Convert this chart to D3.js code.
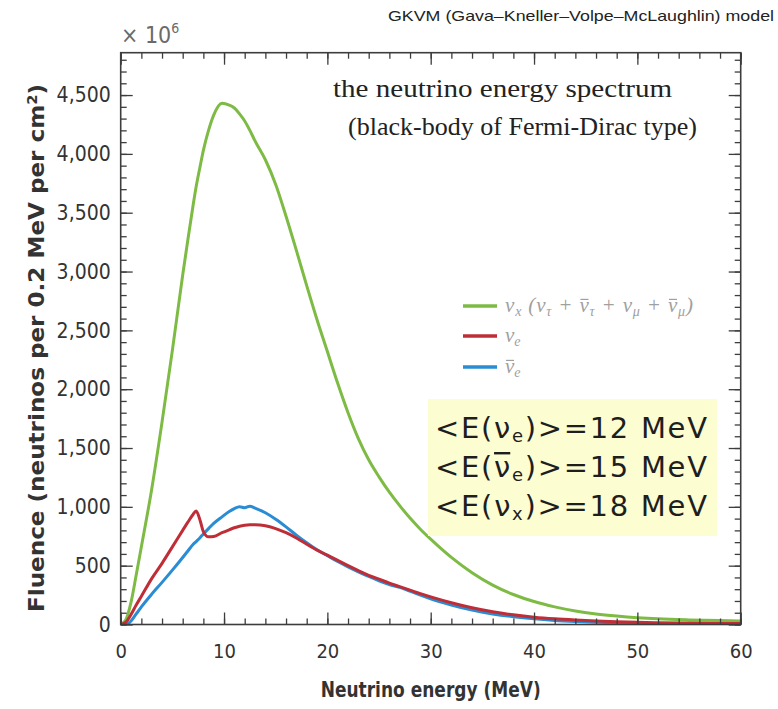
<!DOCTYPE html>
<html>
<head>
<meta charset="utf-8">
<script src="https://cdn.jsdelivr.net/npm/d3@7"></script>
<style>
  body { margin: 0; background: #fff; }
  svg { display: block; }
</style>
</head>
<body>
<svg id="chart" width="778" height="709"></svg>
<script>
// Neutrino energy grid (MeV)
const energy = [0, 0.5, 1, 1.5, 2, 3, 4, 5, 6, 6.5, 7, 7.3, 7.7, 8, 8.5, 9, 9.8, 10.5, 11, 11.5,
  12, 12.5, 13, 14, 15, 16, 17, 18, 19, 20, 21, 22, 23, 24, 25, 26, 27, 28, 29, 30,
  32, 34, 36, 38, 40, 42, 44, 46, 48, 50, 52, 55, 58, 60];

// Fluence, units of 10^6 neutrinos per 0.2 MeV per cm^2
const fluenceNuX = [0, 40, 190, 420, 660, 1150, 1720, 2330, 2970, 3270, 3560, 3720, 3900, 4030, 4200, 4330, 4430, 4415, 4390, 4340,
  4280, 4200, 4110, 3950, 3740, 3470, 3180, 2880, 2590, 2320, 2050, 1800, 1580, 1400, 1255, 1125, 1010, 905, 810, 725,
  570, 440, 335, 255, 195, 150, 115, 90, 72, 58, 48, 39, 33, 30];
const fluenceNuE = [0, 20, 85, 165, 240, 390, 520, 660, 800, 870, 935, 965, 880, 790, 745, 748, 780, 805, 822, 835,
  843, 847, 848, 840, 815, 780, 735, 682, 632, 590, 545, 500, 458, 418, 385, 352, 322, 292, 262, 235,
  185, 142, 108, 82, 62, 48, 38, 30, 24, 19, 15, 12, 9, 8];
const fluenceNuEBar = [0, 0, 30, 90, 150, 258, 358, 462, 570, 625, 680, 705, 740, 770, 815, 860, 915, 960, 985, 1000,
  992, 1006, 990, 950, 895, 830, 760, 695, 635, 585, 535, 490, 448, 408, 372, 340, 315, 283, 250, 218,
  165, 122, 90, 66, 48, 35, 26, 19, 14, 10, 8, 6, 4, 3];

// Axis ticks
const xMajorTicks = [0, 10, 20, 30, 40, 50, 60];
const xMinorTicks = d3.range(0, 61, 2);
const yMajorTicks = [0, 500, 1000, 1500, 2000, 2500, 3000, 3500, 4000, 4500];
const yMinorTicks = d3.range(0, 4801, 100);

const meanEnergies = [
  { flavour: "e", bar: false, value: 12 },
  { flavour: "e", bar: true, value: 15 },
  { flavour: "x", bar: false, value: 18 }
];

const colors = { nuX: "#7dbb45", nuE: "#bf2d37", nuEBar: "#2a8cd2" };

const svg = d3.select("#chart");
const plot = { left: 120.7, right: 740.7, top: 52.7, bottom: 624.5 };

const x = d3.scaleLinear().domain([0, 60]).range([plot.left, plot.right]);
const y = d3.scaleLinear().domain([0, 4860]).range([plot.bottom, plot.top]);

const tickFont = "'DejaVu Sans Condensed', 'Liberation Sans Narrow', 'Roboto Condensed', Roboto, sans-serif";

// Clip for the curves
svg.append("defs").append("clipPath").attr("id", "plotClip")
  .append("rect")
  .attr("x", plot.left).attr("y", plot.top)
  .attr("width", plot.right - plot.left).attr("height", plot.bottom - plot.top);

// Curves
const series = [
  { values: fluenceNuX, color: colors.nuX },
  { values: fluenceNuEBar, color: colors.nuEBar },
  { values: fluenceNuE, color: colors.nuE }
];
const line = d3.line()
  .x(d => x(d[0]))
  .y(d => y(d[1]))
  .curve(d3.curveMonotoneX);

const curves = svg.append("g").attr("clip-path", "url(#plotClip)");
series.forEach(s => {
  curves.append("path")
    .datum(energy.map((e, i) => [e, s.values[i]]))
    .attr("fill", "none")
    .attr("stroke", s.color)
    .attr("stroke-width", 3)
    .attr("stroke-linejoin", "round")
    .attr("d", line);
});

// Axes with inward ticks on all four sides
function styleAxis(g) {
  g.select(".domain").remove();
  g.selectAll(".tick line").attr("stroke", "#3d3d3d").attr("stroke-width", 1.3);
  g.selectAll("text").attr("fill", "#333").style("font-family", tickFont).style("font-size", "20px");
}
svg.append("g").attr("transform", `translate(0,${plot.bottom})`)
  .call(d3.axisBottom(x).tickValues(xMinorTicks).tickSize(-6).tickFormat(""))
  .call(styleAxis);
svg.append("g").attr("transform", `translate(0,${plot.bottom})`)
  .call(d3.axisBottom(x).tickValues(xMajorTicks).tickSize(-12).tickPadding(19).tickFormat(d3.format("d")))
  .call(styleAxis);
svg.append("g").attr("transform", `translate(0,${plot.top})`)
  .call(d3.axisTop(x).tickValues(xMinorTicks).tickSize(-6).tickFormat(""))
  .call(styleAxis);
svg.append("g").attr("transform", `translate(0,${plot.top})`)
  .call(d3.axisTop(x).tickValues(xMajorTicks).tickSize(-12).tickFormat(""))
  .call(styleAxis);
svg.append("g").attr("transform", `translate(${plot.left},0)`)
  .call(d3.axisLeft(y).tickValues(yMinorTicks).tickSize(-6).tickFormat(""))
  .call(styleAxis);
svg.append("g").attr("transform", `translate(${plot.left},0)`)
  .call(d3.axisLeft(y).tickValues(yMajorTicks).tickSize(-12).tickPadding(10).tickFormat(d3.format(",")))
  .call(styleAxis)
  .call(g => g.selectAll("text").style("font-size", "21px"));
svg.append("g").attr("transform", `translate(${plot.right},0)`)
  .call(d3.axisRight(y).tickValues(yMinorTicks).tickSize(-6).tickFormat(""))
  .call(styleAxis);
svg.append("g").attr("transform", `translate(${plot.right},0)`)
  .call(d3.axisRight(y).tickValues(yMajorTicks).tickSize(-12).tickFormat(""))
  .call(styleAxis);

// Frame
svg.append("rect")
  .attr("x", plot.left).attr("y", plot.top)
  .attr("width", plot.right - plot.left).attr("height", plot.bottom - plot.top)
  .attr("fill", "none").attr("stroke", "#3d3d3d").attr("stroke-width", 1.6);

// Axis titles
svg.append("text")
  .attr("x", (plot.left + plot.right) / 2).attr("y", 697)
  .attr("text-anchor", "middle")
  .attr("textLength", 220).attr("lengthAdjust", "spacingAndGlyphs")
  .style("font-family", tickFont).style("font-weight", "bold").style("font-size", "22px")
  .attr("fill", "#333")
  .text("Neutrino energy (MeV)");

const yTitle = svg.append("text")
  .attr("transform", "translate(44,348) rotate(-90)")
  .attr("text-anchor", "middle")
  .attr("textLength", 528).attr("lengthAdjust", "spacingAndGlyphs")
  .style("font-family", tickFont).style("font-weight", "bold").style("font-size", "22px")
  .attr("fill", "#333");
yTitle.append("tspan").text("Fluence (neutrinos per 0.2 MeV per cm");
yTitle.append("tspan").attr("dy", -7).style("font-size", "14px").text("2");
yTitle.append("tspan").attr("dy", 7).text(")");

// Scale factor
const mult = svg.append("text").attr("x", 121).attr("y", 43)
  .attr("fill", "#6a6a6a")
  .style("font-family", tickFont).style("font-size", "23px");
mult.append("tspan").text("\u00d7 10");
mult.append("tspan").attr("dy", -10).style("font-size", "14px").text("6");

// Model name
svg.append("text")
  .attr("x", 774).attr("y", 21)
  .attr("text-anchor", "end")
  .attr("textLength", 386).attr("lengthAdjust", "spacingAndGlyphs")
  .style("font-family", "'Liberation Sans', Arial, sans-serif").style("font-size", "14.5px")
  .attr("fill", "#222")
  .text("GKVM (Gava\u2013Kneller\u2013Volpe\u2013McLaughlin) model");

// Spectrum description
const serif = "'Liberation Serif', 'Times New Roman', serif";
svg.append("text").attr("x", 333).attr("y", 97)
  .attr("textLength", 339).attr("lengthAdjust", "spacingAndGlyphs")
  .style("font-family", serif).style("font-size", "25px").attr("fill", "#222")
  .text("the neutrino energy spectrum");
svg.append("text").attr("x", 348).attr("y", 135)
  .attr("textLength", 349).attr("lengthAdjust", "spacingAndGlyphs")
  .style("font-family", serif).style("font-size", "25px").attr("fill", "#222")
  .text("(black-body of Fermi-Dirac type)");

// Text with subscripts and overbars on selected characters
function richText(parent, px, py, parts, opts) {
  const t = parent.append("text").attr("x", px).attr("y", py)
    .style("font-family", opts.family).style("font-size", opts.size + "px")
    .style("font-style", opts.italic ? "italic" : "normal")
    .attr("fill", opts.fill);
  if (opts.length) t.attr("textLength", opts.length).attr("lengthAdjust", "spacing");
  let shift = 0, idx = 0;
  const bars = [];
  parts.forEach(p => {
    const target = p.sub ? opts.subShift : 0;
    const ts = t.append("tspan").text(p.t);
    if (target !== shift) ts.attr("dy", target - shift);
    if (p.sub) ts.style("font-size", opts.subSize + "px");
    shift = target;
    if (p.bar) bars.push(idx);
    idx += p.t.length;
  });
  const node = t.node();
  bars.forEach(i => {
    const s = node.getStartPositionOfChar(i);
    const e = node.getEndPositionOfChar(i);
    parent.append("line")
      .attr("x1", s.x + opts.barInset).attr("x2", e.x - opts.barInset * 0.3)
      .attr("y1", py - opts.size * opts.barHeight).attr("y2", py - opts.size * opts.barHeight)
      .attr("stroke", opts.fill).attr("stroke-width", opts.barWidth);
  });
  return t;
}

// Legend
const legend = svg.append("g");
const legendItems = [
  { color: colors.nuX, y: 306, length: 188, parts: [
    { t: "\u03bd" }, { t: "x", sub: true }, { t: " (\u03bd" }, { t: "\u03c4", sub: true },
    { t: " + " }, { t: "\u03bd", bar: true }, { t: "\u03c4", sub: true },
    { t: " + \u03bd" }, { t: "\u03bc", sub: true },
    { t: " + " }, { t: "\u03bd", bar: true }, { t: "\u03bc", sub: true }, { t: ")" }
  ] },
  { color: colors.nuE, y: 336, parts: [{ t: "\u03bd" }, { t: "e", sub: true }] },
  { color: colors.nuEBar, y: 367, parts: [{ t: "\u03bd", bar: true }, { t: "e", sub: true }] }
];
legendItems.forEach(item => {
  legend.append("line")
    .attr("x1", 463).attr("x2", 497).attr("y1", item.y).attr("y2", item.y)
    .attr("stroke", item.color).attr("stroke-width", 3.5);
  richText(legend, 505, item.y + 6, item.parts, {
    family: serif, size: 21, italic: true, fill: "#a0a0a0", length: item.length,
    subSize: 14, subShift: 4, barHeight: 0.6, barInset: 1, barWidth: 1.2
  });
});

// Mean energy box
const box = svg.append("g");
box.append("rect")
  .attr("x", 428).attr("y", 399).attr("width", 289).attr("height", 137)
  .attr("fill", "#fdfdd2");
meanEnergies.forEach((m, i) => {
  richText(box, 435, 438 + i * 39, [
    { t: "<E(" }, { t: "\u03bd", bar: m.bar }, { t: m.flavour, sub: true },
    { t: `)>=${m.value} MeV` }
  ], {
    family: "'DejaVu Sans', 'Open Sans', sans-serif", size: 29, italic: false, fill: "#1e1e1e",
    length: 272, subSize: 18, subShift: 4, barHeight: 0.82, barInset: 0, barWidth: 2.4
  });
});
</script>
</body>
</html>
